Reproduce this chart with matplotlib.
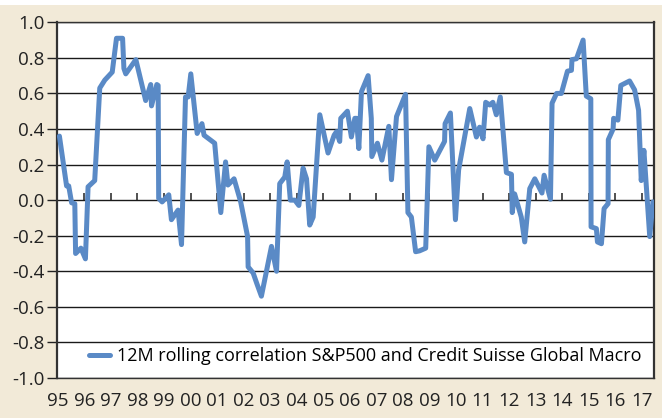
import matplotlib.pyplot as plt
from matplotlib.patches import Rectangle
from matplotlib import font_manager

# decimal year, correlation value
years = [1995.06, 1995.33, 1995.41, 1995.52, 1995.64, 1995.67, 1995.87, 1996.04, 1996.14, 1996.39,
         1996.58, 1996.77, 1997.05, 1997.21, 1997.44, 1997.49, 1997.56, 1997.94, 1998.31, 1998.50,
         1998.53, 1998.73, 1998.78, 1998.80, 1998.93, 1999.18, 1999.28, 1999.53, 1999.66, 1999.81,
         1999.91, 2000.01, 2000.25, 2000.43, 2000.51, 2000.91, 2001.14, 2001.32, 2001.41, 2001.64,
         2001.89, 2002.15, 2002.17, 2002.36, 2002.50, 2002.67, 2003.05, 2003.24, 2003.36, 2003.55,
         2003.64, 2003.76, 2003.93, 2004.08, 2004.24, 2004.37, 2004.49, 2004.62, 2004.87, 2005.18,
         2005.41, 2005.50, 2005.62, 2005.66, 2005.91, 2006.06, 2006.19, 2006.25, 2006.34, 2006.44,
         2006.69, 2006.81, 2006.83, 2007.04, 2007.21, 2007.47, 2007.57, 2007.76, 2008.10, 2008.19,
         2008.32, 2008.48, 2008.63, 2008.86, 2008.98, 2009.20, 2009.57, 2009.59, 2009.79, 2009.98,
         2010.10, 2010.52, 2010.77, 2010.89, 2011.02, 2011.12, 2011.27, 2011.39, 2011.52, 2011.67,
         2011.90, 2012.09, 2012.12, 2012.21, 2012.46, 2012.59, 2012.78, 2012.97, 2013.24, 2013.32,
         2013.56, 2013.62, 2013.79, 2013.97, 2014.20, 2014.35, 2014.37, 2014.54, 2014.79, 2014.91,
         2015.08, 2015.09, 2015.29, 2015.33, 2015.48, 2015.58, 2015.73, 2015.74, 2015.92, 2015.94,
         2016.10, 2016.21, 2016.54, 2016.73, 2016.88, 2016.98, 2017.08, 2017.21, 2017.30, 2017.42]
corr = [0.36, 0.08, 0.08, -0.015, -0.02, -0.30, -0.27, -0.33, 0.075, 0.11,
        0.63, 0.675, 0.72, 0.91, 0.91, 0.74, 0.71, 0.79, 0.56, 0.65,
        0.53, 0.65, 0.645, 0.01, -0.01, 0.03, -0.11, -0.056, -0.25, 0.58,
        0.58, 0.71, 0.375, 0.43, 0.365, 0.32, -0.07, 0.215, 0.085, 0.12,
        -0.01, -0.205, -0.375, -0.41, -0.47, -0.54, -0.26, -0.40, 0.093, 0.13,
        0.215, 0.0, 0.0, -0.03, 0.18, 0.12, -0.14, -0.095, 0.48, 0.265,
        0.365, 0.385, 0.33, 0.46, 0.50, 0.355, 0.46, 0.46, 0.29, 0.61,
        0.70, 0.46, 0.245, 0.32, 0.225, 0.415, 0.115, 0.47, 0.595, -0.07,
        -0.095, -0.29, -0.285, -0.27, 0.30, 0.225, 0.33, 0.43, 0.49, -0.11,
        0.17, 0.515, 0.355, 0.41, 0.345, 0.55, 0.535, 0.55, 0.48, 0.58,
        0.155, 0.145, -0.07, 0.035, -0.095, -0.235, 0.065, 0.12, 0.04, 0.14,
        0.005, 0.545, 0.60, 0.60, 0.725, 0.73, 0.79, 0.795, 0.90, 0.585,
        0.57, -0.15, -0.16, -0.235, -0.245, -0.047, -0.02, 0.34, 0.40, 0.46,
        0.45, 0.645, 0.67, 0.62, 0.505, 0.11, 0.28, -0.01, -0.205, -0.01]

year_ticks = list(range(1995, 2018))
year_labels = ["%02d" % (y % 100) for y in year_ticks]
y_ticks = [-1.0, -0.8, -0.6, -0.4, -0.2, 0.0, 0.2, 0.4, 0.6, 0.8, 1.0]

series_name = "12M rolling correlation S&P500 and Credit Suisse Global Macro"

names = {f.name for f in font_manager.fontManager.ttflist}
if "Liberation Sans Narrow" in names:
    plt.rcParams['font.family'] = ['Liberation Sans Narrow', 'DejaVu Sans']
else:
    plt.rcParams['font.family'] = ['Open Sans', 'DejaVu Sans']

beige = "#F2EAD8"
line_color = "#5A8AC6"

fig = plt.figure(figsize=(6.63, 4.18), dpi=100, facecolor="white")
fig.patches.append(Rectangle((0, 0), 0.998, 0.988, transform=fig.transFigure,
                             facecolor=beige, edgecolor="none", zorder=-10))
ax = fig.add_axes([0.086, 0.0957, 0.9, 0.851])
ax.set_facecolor("white")

ax.plot(years, corr, color=line_color, lw=3.6, solid_joinstyle='round',
        solid_capstyle='round', label=series_name, zorder=3)

ax.set_xlim(1994.97, 2017.45)
ax.set_ylim(-1.0, 1.0)
ax.set_yticks(y_ticks)
ax.set_yticklabels(["%.1f" % v for v in y_ticks])
ax.yaxis.grid(True, color="#1a1a1a", lw=1.0)
ax.set_axisbelow(True)

ax.set_xticks(year_ticks)
ax.set_xticklabels(year_labels)
ax.tick_params(axis='x', length=0, pad=10, labelsize=13.5, colors="#222222")
ax.tick_params(axis='y', length=7, width=1, pad=2, labelsize=13.5, colors="#222222")

# small year ticks hanging off the zero line
zero_axis = ax.secondary_xaxis(0.5)
zero_axis.set_xticks(year_ticks[1:], labels=[""] * len(year_ticks[1:]))
zero_axis.tick_params(axis='x', direction='out', length=5, width=1.2,
                      color="#333333", labelbottom=False, labeltop=False)
zero_axis.spines['bottom'].set_visible(False)
zero_axis.spines['top'].set_visible(False)

for side in ('left', 'right'):
    ax.spines[side].set_linewidth(1.6)
    ax.spines[side].set_color("#333333")
for side in ('top', 'bottom'):
    ax.spines[side].set_linewidth(1.0)
    ax.spines[side].set_color("#333333")

ax.legend(loc='lower right', frameon=False, fontsize=13, handlelength=1.2,
          handletextpad=0.35, borderaxespad=0.3, bbox_to_anchor=(1.0, 0.0))

plt.savefig('out.png', dpi=100, facecolor=fig.get_facecolor())
